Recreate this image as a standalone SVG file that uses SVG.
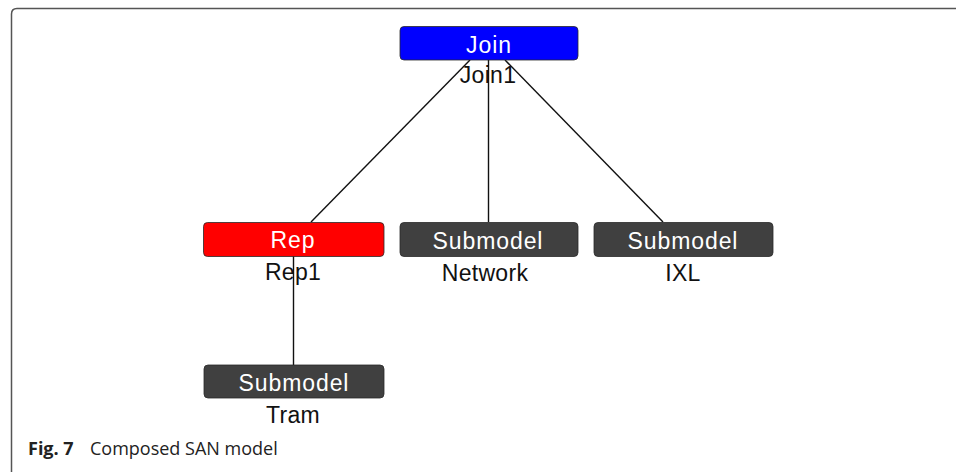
<svg xmlns="http://www.w3.org/2000/svg" width="956" height="472" viewBox="0 0 956 472">
  <style>
    .box { stroke: #2a2a2a; stroke-width: 0.8; }
    .join { fill: #0000ff; }
    .rep { fill: #ff0000; }
    .sub { fill: #404040; }
    .title { font-family: "Liberation Sans", Arial, sans-serif; font-size: 23px; fill: #ffffff; text-anchor: middle; letter-spacing: 0.9px; }
    .name { font-family: "Liberation Sans", Arial, sans-serif; font-size: 23px; fill: #111111; text-anchor: middle; letter-spacing: 0.3px; }
    .edge { stroke: #111111; stroke-width: 1.4; fill: none; }
    .cap { font-family: "Open Sans", "Noto Sans", sans-serif; font-size: 18px; fill: #222222; }
  </style>
  <rect width="956" height="472" fill="#ffffff"/>
  <!-- figure frame: top and left rules with rounded corner -->
  <path d="M 11.5 472 V 14 Q 11.5 8.5 17 8.5 H 956" fill="none" stroke="#555555" stroke-width="1.5"/>

  <g id="connectors">
    <line class="edge" x1="470" y1="60" x2="311" y2="222"/>
    <line class="edge" x1="488.5" y1="60" x2="488.5" y2="222"/>
    <line class="edge" x1="505" y1="60" x2="663" y2="222"/>
    <line class="edge" x1="293.5" y1="256" x2="293.5" y2="365"/>
  </g>

  <g id="join1">
    <rect class="box join" x="400" y="26.5" width="178" height="33.5" rx="4"/>
    <text class="title" x="489" y="53">Join</text>
    <text class="name" x="488" y="83">Join1</text>
  </g>

  <g id="rep1">
    <rect class="box rep" x="203.5" y="222.5" width="180.5" height="34" rx="4"/>
    <text class="title" x="293" y="248">Rep</text>
    <text class="name" x="293" y="280">Rep1</text>
  </g>

  <g id="network">
    <rect class="box sub" x="400" y="222.5" width="178" height="34" rx="4"/>
    <text class="title" x="488" y="249">Submodel</text>
    <text class="name" x="485" y="281">Network</text>
  </g>

  <g id="ixl">
    <rect class="box sub" x="594" y="222.5" width="179" height="34" rx="4"/>
    <text class="title" x="683" y="249">Submodel</text>
    <text class="name" x="683" y="281">IXL</text>
  </g>

  <g id="tram">
    <rect class="box sub" x="204" y="365" width="180" height="33" rx="4"/>
    <text class="title" x="294" y="391">Submodel</text>
    <text class="name" x="293" y="423">Tram</text>
  </g>

  <g id="caption">
    <text class="cap" x="28" y="455" font-weight="bold">Fig. 7</text>
    <text class="cap" x="90" y="455">Composed SAN model</text>
  </g>
</svg>
